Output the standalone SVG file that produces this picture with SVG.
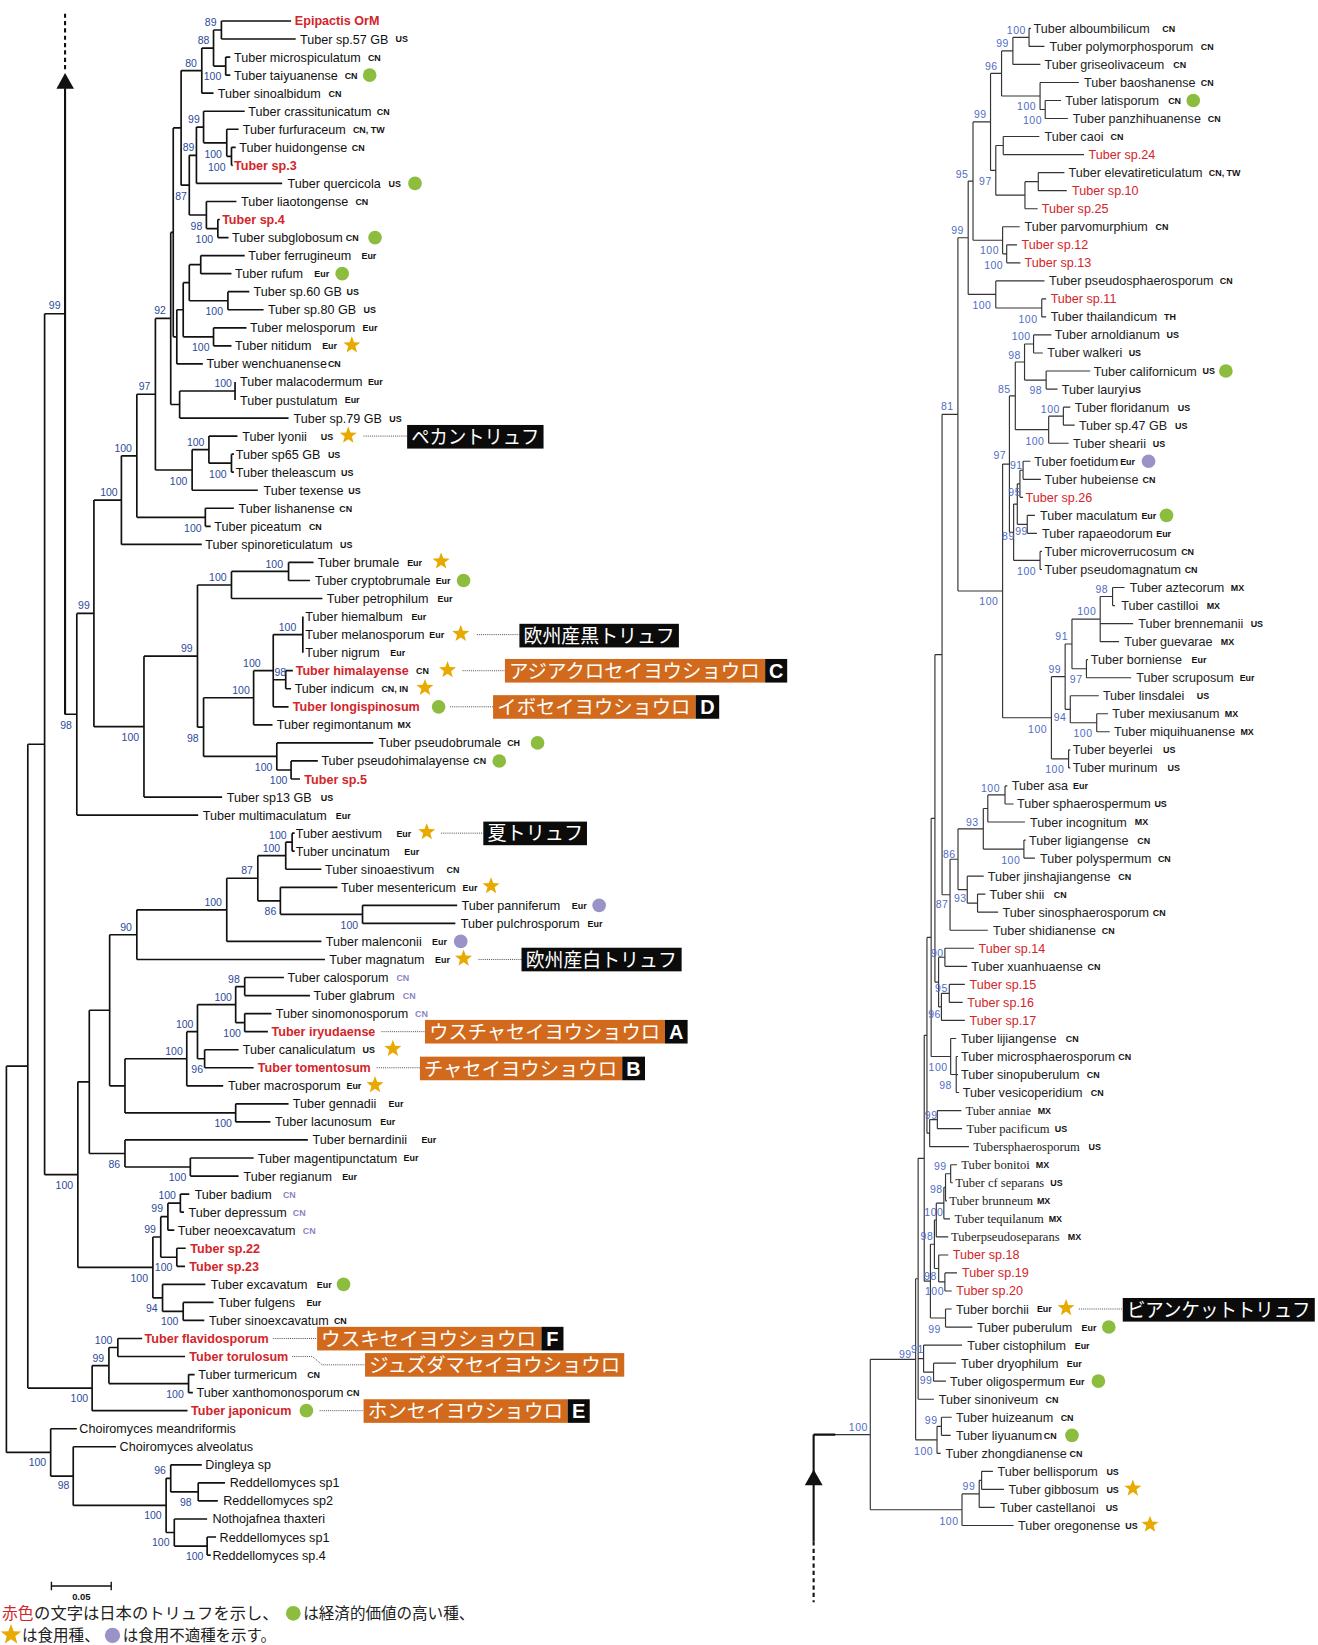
<svg xmlns="http://www.w3.org/2000/svg" xmlns:xlink="http://www.w3.org/1999/xlink" width="1318" height="1645" viewBox="0 0 1318 1645">
<style>
.n{font-family:"Liberation Sans",Arial,sans-serif;font-size:12px;fill:#111}
.rt{fill:#222}
.rd{fill:#d3252a;font-weight:bold}
.rr{fill:#d3252a}
.sf{font-family:"Liberation Serif","Times New Roman",serif}
.t{font-family:"Liberation Sans",Arial,sans-serif;font-size:8.5px;font-weight:bold;fill:#111}
.tp{fill:#8b84c2}
.bs{font-family:"Liberation Sans",Arial,sans-serif;font-size:10px;fill:#2c4a9c;text-anchor:middle}
.bs2{fill:#4f6cc4;letter-spacing:0.5px}
.tr{fill:none;stroke:#111;stroke-width:1.6}
.tr2{fill:none;stroke:#333;stroke-width:1.1}
.ar{fill:none;stroke:#111;stroke-width:2}
.dt{fill:none;stroke:#333;stroke-width:0.8;stroke-dasharray:1 1}
.ob{fill:#d16a1c}
.bk{fill:#0b0b0b}
.bt{font-family:"Noto Sans CJK JP","Noto Sans CJK SC",sans-serif;font-size:18.5px;fill:#fff}
.bl{font-family:"Liberation Sans",Arial,sans-serif;font-size:19px;font-weight:bold;fill:#fff;text-anchor:middle}
.gc{fill:#8cbd3f}
.pc{fill:#9a93c8}
.lg{font-family:"Noto Sans CJK JP","Noto Sans CJK SC",sans-serif;font-size:15px;fill:#222}
</style>
<defs>
<path id="st" fill="#e8a900" d="M0,-8.5 L2.1,-2.9 L8.1,-2.6 L3.4,1.1 L5,6.9 L0,3.5 L-5,6.9 L-3.4,1.1 L-8.1,-2.6 L-2.1,-2.9 Z"/>
</defs>
<rect width="1318" height="1645" fill="#fff"/>
<g transform="scale(1.0493)">
<g id="connectors">
<path class="tr" d="M211 20V37.2M211 20H277.4M211 37.2H281.8M215.1 54.4V71.6M215.1 54.4H219.5M215.1 71.6H219.5M203.5 28.6V63M203.5 28.6H211M203.5 63H215.1M192.3 45.8V88.8M192.3 45.8H203.5M192.3 88.8H203.5M220.6 140.4V157.6M220.6 140.4H224.6M220.6 157.6H221.8M216.1 123.2V149M216.1 123.2H227.4M216.1 149H220.6M194 106V136.1M194 106H233.2M194 136.1H216.1M187.2 121.1V174.8M187.2 121.1H194M187.2 174.8H268.9M207.6 209.2V226.4M207.6 209.2H209.5M207.6 226.4H217.8M196.7 192V217.8M196.7 192H225.3M196.7 217.8H207.6M180.4 148V204.9M180.4 148H187.2M180.4 204.9H196.7M172.6 67.3V176.5M172.6 67.3H192.3M172.6 176.5H180.4M191.3 243.6V260.8M191.3 243.6H233.2M191.3 260.8H220.6M217.2 278V295.2M217.2 278H237.6M217.2 295.2H251.2M180.4 252.2V286.6M180.4 252.2H191.3M180.4 286.6H217.2M203.5 312.4V329.6M203.5 312.4H234.9M203.5 329.6H220.6M174.6 269.4V321M174.6 269.4H180.4M174.6 321H203.5M168.5 295.2V346.8M168.5 295.2H174.6M168.5 346.8H193.3M165.1 121.9V321M165.1 121.9H172.6M165.1 321H168.5M224 364V381.2M171.2 372.6V398.4M171.2 372.6H224M171.2 398.4H275M162.7 221.5V385.5M162.7 221.5H165.1M162.7 385.5H171.2M220.6 432.8V450M220.6 432.8H222.9M220.6 450H222.9M199.1 415.6V441.4M199.1 415.6H226.3M199.1 441.4H220.6M183.1 428.5V467.2M183.1 428.5H199.1M183.1 467.2H245.7M148.1 303.5V447.9M148.1 303.5H162.7M148.1 447.9H183.1M195.7 484.4V501.6M195.7 484.4H222.9M195.7 501.6H200.8M130.4 375.7V493M130.4 375.7H148.1M130.4 493H195.7M115.7 434.4V518.8M115.7 434.4H130.4M115.7 518.8H192.3M275 536V553.2M275 536H298.8M275 553.2H295.4M220.6 544.6V570.4M220.6 544.6H275M220.6 570.4H307.3M288.6 587.6V622M272.3 639.2V656.4M272.3 639.2H279.1M272.3 656.4H277.4M260.4 604.8V673.6M260.4 604.8H288.6M260.4 647.8H272.3M260.4 673.6H275M241.7 639.2V690.8M241.7 639.2H260.4M241.7 690.8H259.7M277.4 725.2V742.4M277.4 725.2H302.9M277.4 742.4H285.9M263.8 708V733.8M263.8 708H355.7M263.8 733.8H277.4M194 665V720.9M194 665H241.7M194 720.9H263.8M188.2 557.5V693M188.2 557.5H220.6M188.2 693H194M137.2 625.3V759.6M137.2 625.3H188.2M137.2 759.6H211.7M89.5 476.6V692.5M89.5 476.6H115.7M89.5 692.5H137.2M73.2 584.6V776.8M73.2 584.6H89.5M73.2 776.8H188.9M62 680.7H73.2M278.4 794V811.2M278.4 794H280.8M278.4 811.2H280.8M272.3 802.6V828.4M272.3 802.6H278.4M272.3 828.4H306.3M345.5 862.8V880M345.5 862.8H435.7M345.5 880H434M267.2 845.6V871.4M267.2 845.6H321.6M267.2 871.4H345.5M245.7 815.5V858.5M245.7 815.5H272.3M245.7 858.5H267.2M216.1 837V897.2M216.1 837H245.7M216.1 897.2H306.3M130.4 867.1V914.4M130.4 867.1H216.1M130.4 914.4H309.7M233.2 931.6V948.8M233.2 931.6H270.6M233.2 948.8H295.4M233.2 966V983.2M233.2 966H258.7M233.2 983.2H255.3M224.6 940.2V974.6M224.6 940.2H233.2M224.6 974.6H233.2M195 1000.4V1017.6M195 1000.4H227.4M195 1017.6H241.7M188.2 957.4V1009M188.2 957.4H224.6M188.2 1009H195M178 983.2V1034.8M178 983.2H188.2M178 1034.8H212.7M224.6 1052V1069.2M224.6 1052H275M224.6 1069.2H257.7M119.1 1009V1060.6M119.1 1009H178M119.1 1060.6H224.6M104.5 890.8V1034.8M104.5 890.8H130.4M104.5 1034.8H119.1M181.4 1103.6V1120.8M181.4 1103.6H241.7M181.4 1120.8H227.4M119.1 1086.4V1112.2M119.1 1086.4H293.4M119.1 1112.2H181.4M85.1 962.8V1099.3M85.1 962.8H104.5M85.1 1099.3H119.1M171.9 1138V1155.2M171.9 1138H180.4M171.9 1155.2H175.3M160 1146.6V1172.4M160 1146.6H171.9M160 1172.4H166.1M168.5 1189.6V1206.8M168.5 1189.6H177M168.5 1206.8H176.3M153.2 1159.5V1198.2M153.2 1159.5H160M153.2 1198.2H168.5M174.6 1241.2V1258.4M174.6 1241.2H203.5M174.6 1258.4H194.7M154.9 1224V1249.8M154.9 1224H195.7M154.9 1249.8H174.6M145.7 1178.9V1236.9M145.7 1178.9H153.2M145.7 1236.9H154.9M74.2 1031V1207.9M74.2 1031H85.1M74.2 1207.9H145.7M42.5 299V1119.5M42.5 299H62M42.5 1119.5H74.2M112.3 1275.6V1292.8M112.3 1275.6H135.5M112.3 1292.8H176.3M179.7 1310V1327.2M179.7 1310H185.5M179.7 1327.2H183.8M103.8 1284.2V1318.6M103.8 1284.2H112.3M103.8 1318.6H179.7M87.8 1301.4V1344.4M87.8 1301.4H103.8M87.8 1344.4H178.7M26.5 709.3V1322.9M26.5 709.3H42.5M26.5 1322.9H87.8M188.9 1413.2V1430.4M188.9 1413.2H214.4M188.9 1430.4H207.6M162.7 1396V1421.8M162.7 1396H192.3M162.7 1421.8H188.9M197.4 1464.8V1482M197.4 1464.8H205.9M197.4 1482H200.8M166.1 1447.6V1473.4M166.1 1447.6H197.4M166.1 1473.4H197.4M158.3 1408.9V1460.5M158.3 1408.9H162.7M158.3 1460.5H166.1M69.8 1378.8V1434.7M69.8 1378.8H110.6M69.8 1434.7H158.3M48.3 1361.6V1406.8M48.3 1361.6H73.2M48.3 1406.8H69.8M6.1 1016.1V1384.2M6.1 1016.1H26.5M6.1 1384.2H48.3"/>
<path class="ar" d="M62 84V681"/>
<path class="ar" d="M62 13V69" stroke-dasharray="4 3"/>
<polygon points="62,69.5 53.8,84.5 70.5,84.5" fill="#111"/>
<path class="tr2" d="M980.7 27V44.2M980.7 27H982.5M980.7 44.2H995.4M965.3 35.6V61.4M965.3 35.6H980.7M965.3 61.4H991.5M996.1 95.8V112.9M996.1 95.8H1011.2M996.1 112.9H1017.7M991.2 78.6V104.4M991.2 78.6H1028.2M991.2 104.4H996.1M954.5 48.5V91.5M954.5 48.5H965.3M954.5 91.5H991.2M956.1 130.1V147.3M956.1 130.1H990.5M956.1 147.3H1033.1M989.5 164.5V181.7M989.5 164.5H1014.4M989.5 181.7H1016.7M976.8 173.1V198.9M976.8 173.1H989.5M976.8 198.9H988.9M949 138.7V186M949 138.7H956.1M949 186H976.8M944 70V162.4M944 70H954.5M944 162.4H949M959.4 233.3V250.5M959.4 233.3H969.2M959.4 250.5H972.5M955.5 216.1V241.9M955.5 216.1H971.8M955.5 241.9H959.4M927.3 116.2V229M927.3 116.2H944M927.3 229H955.5M992.8 284.9V302M992.8 284.9H997M992.8 302H997M949 267.7V293.5M949 267.7H995.4M949 293.5H992.8M922.7 172.6V280.6M922.7 172.6H927.3M922.7 280.6H949M985 319.2V336.4M985 319.2H1002M985 336.4H993.8M997 353.6V370.8M997 353.6H1039M997 370.8H1007.9M976.4 327.8V362.2M976.4 327.8H985M976.4 362.2H997M1013.4 388V405.2M1013.4 388H1020M1013.4 405.2H1024.2M999.4 396.6V422.4M999.4 396.6H1013.4M999.4 422.4H1018.4M967.6 345V409.5M967.6 345H976.4M967.6 409.5H999.4M975 439.6V456.8M975 439.6H982M975 456.8H992M972 448.2V474M972 448.2H975M972 474H975M979 491.1V508.3M979 491.1H986.3M979 508.3H988.2M969.5 461.1V499.7M969.5 461.1H972M969.5 499.7H979M991.2 525.5V542.7M991.2 525.5H993M991.2 542.7H993M966 480.4V534.1M966 480.4H969.5M966 534.1H991.2M962 377.3V507.3M962 377.3H967.6M962 507.3H966M1060.3 559.9V577.1M1060.3 559.9H1071.7M1060.3 577.1H1062.6M1048.5 568.5V611.5M1048.5 568.5H1060.3M1048.5 594.3H1079.9M1048.5 611.5H1066.5M1035.4 628.7V645.9M1035.4 628.7H1037M1035.4 645.9H1078M1021.6 590V637.3M1021.6 590H1048.5M1021.6 637.3H1035.4M1045.2 680.2V697.4M1045.2 680.2H1056M1045.2 697.4H1057.6M1020 663.1V688.8M1020 663.1H1047.2M1020 688.8H1045.2M1015.1 613.7V676M1015.1 613.7H1021.6M1015.1 676H1020M1018.4 714.6V731.8M1018.4 714.6H1020M1018.4 731.8H1020M1002 644.9V723.2M1002 644.9H1015.1M1002 723.2H1018.4M955.5 442.3V684M955.5 442.3H962M955.5 684H1002M912.9 226.6V563.2M912.9 226.6H922.7M912.9 563.2H955.5M957.8 749V766.2M957.8 749H960M957.8 766.2H966M941.4 757.6V783.4M941.4 757.6H957.8M941.4 783.4H976.8M975.8 800.6V817.8M975.8 800.6H977.5M975.8 817.8H986.3M937.1 770.5V809.2M937.1 770.5H941.4M937.1 809.2H975.8M931.6 852.1V869.3M931.6 852.1H939.1M931.6 869.3H951.2M921.8 835V860.7M921.8 835H937.5M921.8 860.7H931.6M913 789.9V847.9M913 789.9H937.1M913 847.9H921.8M905.4 818.9V886.5M905.4 818.9H913M905.4 886.5H941.4M897.8 394.9V852.7M897.8 394.9H912.9M897.8 852.7H905.4M900.5 903.7V920.9M900.5 903.7H928.3M900.5 920.9H921.8M904.7 938.1V955.3M904.7 938.1H919.5M904.7 955.3H917.5M897.2 946.7V972.5M897.2 946.7H904.7M897.2 972.5H919.5M894.5 912.3V959.6M894.5 912.3H900.5M894.5 959.6H897.2M891 623.8V936M891 623.8H897.8M891 936H894.5M911.3 1006.9V1041.2M911.3 1006.9H913M911.3 1024.1H913M911.3 1041.2H914M906 989.7V1024M906 989.7H911.3M906 1024H911.3M887.4 779.9V1006.9M887.4 779.9H891M887.4 1006.9H906M893.3 1058.4V1075.6M893.3 1058.4H916.2M893.3 1075.6H916.9M886 1067V1092.8M886 1067H893.3M886 1092.8H923.4M883.4 893.4V1079.9M883.4 893.4H887.4M883.4 1079.9H886M906 1110V1127.2M906 1110H912M906 1127.2H908M901.1 1118.6V1144.4M901.1 1118.6H906M901.1 1144.4H902.5M899.5 1131.5V1161.6M899.5 1131.5H901.1M899.5 1161.6H905.4M892.3 1146.6V1178.8M892.3 1146.6H899.5M892.3 1178.8H903.7M900.5 1213.1V1230.3M900.5 1213.1H912M900.5 1230.3H907M894.6 1196V1221.7M894.6 1196H903.7M894.6 1221.7H900.5M890.5 1162.7V1208.9M890.5 1162.7H892.3M890.5 1208.9H894.6M901.1 1247.5V1264.7M901.1 1247.5H907M901.1 1264.7H926.7M886.7 1185.8V1256.1M886.7 1185.8H890.5M886.7 1256.1H901.1M880.8 986.7V1221M880.8 986.7H883.4M880.8 1221H886.7M889.7 1299.1V1316.3M889.7 1299.1H911M889.7 1316.3H901.5M880.2 1281.9V1307.7M880.2 1281.9H916.8M880.2 1307.7H889.7M875 1103.9V1333.5M875 1103.9H880.8M875 1294.8H880.2M875 1333.5H890M897.2 1350.7V1367.9M897.2 1350.7H907M897.2 1367.9H906M893 1359.3V1385.1M893 1359.3H897.2M893 1385.1H896.5M872.6 1218.7V1372.2M872.6 1218.7H875M872.6 1372.2H893M935.5 1402.2V1419.4M935.5 1402.2H946.3M935.5 1419.4H956.8M933.2 1410.8V1436.6M933.2 1410.8H935.5M933.2 1436.6H948M916.8 1423.7V1453.8M916.8 1423.7H933.2M916.8 1453.8H966M829.4 1295.5V1438.8M829.4 1295.5H872.6M829.4 1438.8H916.8M795 1367.2H829.4"/>
<path class="ar" d="M775.4 1367.2H796M775.4 1367.2V1469"/>
<path class="ar" d="M775.4 1469V1527" stroke-dasharray="4 3"/>
<polygon points="775.4,1400.5 767,1415.5 784,1415.5" fill="#111"/>
<path class="dt" d="M346.5 415.6H388M454.4 604.8H495M440.8 639.2H481.2M428.9 673.6H469.9M420.4 794H460.6M456 914.4H497M363.5 983.2H405M359 1017.6H400.2M260.4 1275.6H302.2M278.4 1292.8H297.8L307 1300.7H347.9M304.6 1344.4H346.5M1028.2 1247.5H1070"/>
</g>
<g id="bootstrap-left" class="bs">
<text x="200.8" y="25.1">89</text><text x="194" y="42.3">88</text><text x="182.1" y="63.9">80</text><text x="202.5" y="76.6">100</text><text x="184.8" y="117.2">99</text><text x="203.2" y="150.3">100</text><text x="206.6" y="163">100</text><text x="179.7" y="144.2">89</text><text x="172.6" y="190.3">87</text><text x="187.2" y="218.9">98</text><text x="194.7" y="231.6">100</text><text x="52.1" y="294.5">99</text><text x="152.5" y="299.5">92</text><text x="204.2" y="300.5">100</text><text x="191.3" y="334.5">100</text>
<text x="212.7" y="368.8">100</text><text x="137.8" y="372">97</text><text x="186.5" y="425.3">100</text><text x="117.4" y="430.8">100</text><text x="207.6" y="455.2">100</text><text x="170.2" y="461.9">100</text><text x="103.8" y="473">100</text><text x="183.8" y="507">100</text><text x="261.4" y="541.3">100</text><text x="207.6" y="554">100</text><text x="80" y="580.7">99</text><text x="274" y="601.3">100</text><text x="178" y="621.3">99</text><text x="240" y="635.6">100</text><text x="267.2" y="644.5">98</text><text x="229.7" y="661.7">100</text><text x="63" y="694.4">98</text><text x="124.2" y="706.2">100</text><text x="183.8" y="707.1">98</text>
<text x="251.2" y="734.7">100</text><text x="265.5" y="747.5">100</text><text x="264.8" y="799.2">100</text><text x="258.7" y="811.9">100</text><text x="235.5" y="833.2">87</text><text x="203.2" y="863.7">100</text><text x="257.7" y="872.3">86</text><text x="120.2" y="887.2">90</text><text x="332.9" y="885">100</text><text x="222.9" y="936.8">98</text><text x="212.7" y="953.9">100</text><text x="176" y="979.3">100</text><text x="221.2" y="988.2">100</text><text x="165.8" y="1005.7">100</text><text x="187.9" y="1022.5">96</text>
<text x="212.7" y="1073.9">100</text><text x="108.9" y="1112.7">86</text><text x="61.3" y="1132.7">100</text><text x="169.2" y="1125.7">100</text><text x="159.3" y="1142.8">100</text><text x="149.8" y="1155.5">99</text><text x="143" y="1174.6">99</text><text x="155.9" y="1211.5">100</text><text x="132.7" y="1221.6">100</text><text x="144.7" y="1250.2">94</text><text x="161.7" y="1262.9">100</text><text x="98.7" y="1280.4">100</text><text x="93.6" y="1297.9">99</text><text x="166.8" y="1331.9">100</text><text x="75.6" y="1336.6">100</text><text x="35.7" y="1397.3">100</text><text x="152.5" y="1404.9">96</text><text x="60.6" y="1419.5">98</text>
<text x="177" y="1435.4">98</text><text x="145.7" y="1447.2">100</text><text x="153.2" y="1473.5">100</text><text x="185.5" y="1486.9">100</text>
</g>
<g id="bootstrap-right" class="bs bs2">
<text x="968.6" y="32.1">100</text><text x="955.5" y="44.8">99</text><text x="944.7" y="66.4">96</text><text x="978.4" y="105.2">100</text><text x="984" y="118.5">100</text><text x="934.2" y="112.5">99</text><text x="916.8" y="169.3">95</text><text x="939.1" y="176">97</text><text x="912.6" y="222.7">99</text><text x="943" y="242.4">100</text><text x="947" y="256">100</text><text x="935.8" y="294.8">100</text><text x="979.7" y="307.5">100</text><text x="973.2" y="324.3">100</text><text x="966.9" y="341.8">98</text><text x="957.1" y="374.2">85</text><text x="987.2" y="375.8">98</text><text x="902.8" y="391">81</text><text x="1001" y="393.6">100</text>
<text x="986.3" y="423.7">100</text><text x="952.9" y="437.1">97</text><text x="968.6" y="446.6">91</text><text x="967" y="472.7">95</text><text x="961.1" y="514.9">89</text><text x="973.5" y="510.1">99</text><text x="978.4" y="548.3">100</text><text x="942.4" y="576.2">100</text><text x="1050.1" y="565.1">98</text><text x="1035.7" y="586.4">100</text><text x="1011.8" y="610.2">91</text><text x="1005.2" y="641">99</text><text x="1025.6" y="650.9">97</text><text x="1010.2" y="687.1">94</text><text x="988.9" y="698.2">100</text><text x="1032.1" y="702.3">100</text><text x="1005.2" y="736.6">100</text><text x="944" y="754.7">100</text><text x="926.7" y="787.2">93</text>
<text x="904.7" y="817.3">86</text><text x="963.3" y="823">100</text><text x="897.8" y="865">87</text><text x="915.2" y="859.5">93</text><text x="893.3" y="912">90</text><text x="897.2" y="945.3">95</text><text x="890.6" y="969.8">96</text><text x="894" y="1020.6">100</text><text x="901.1" y="1038.1">98</text><text x="887.4" y="1066">99</text><text x="896.2" y="1115.3">99</text><text x="892.3" y="1136.9">98</text><text x="890" y="1158.8">100</text><text x="883.4" y="1181.3">98</text>
<text x="886.7" y="1220.1">98</text><text x="890.6" y="1234.4">100</text><text x="890.6" y="1269.9">99</text><text x="862.8" y="1293.8">99</text><text x="874.3" y="1289.3">91</text><text x="882.5" y="1319.2">99</text><text x="887.4" y="1357.3">99</text><text x="880.2" y="1386.2">100</text><text x="818" y="1363.7">100</text><text x="923.4" y="1420.2">99</text><text x="904.4" y="1453.6">100</text>
</g>
<g id="left-taxa">
<g id="L01"><text class="n rd" x="281" y="24.3">Epipactis OrM</text></g>
<g id="L02"><text class="n" y="41.5"><tspan x="286">Tuber sp.57 GB</tspan><tspan class="t" x="377" dy="-1">US</tspan></text></g>
<g id="L03"><text class="n" y="58.7"><tspan x="223">Tuber microspiculatum</tspan><tspan class="t" x="350.6" dy="-1">CN</tspan></text></g>
<g id="L04"><text class="n" y="75.9"><tspan x="223">Tuber taiyuanense</tspan><tspan class="t" x="328.5" dy="-1">CN</tspan></text><circle class="gc" cx="352.3" cy="71.6" r="6.5"/></g>
<g id="L05"><text class="n" y="93.1"><tspan x="207.6">Tuber sinoalbidum</tspan><tspan class="t" x="313.1" dy="-1">CN</tspan></text></g>
<g id="L06"><text class="n" y="110.3"><tspan x="236.6">Tuber crassitunicatum</tspan><tspan class="t" x="359.1" dy="-1">CN</tspan></text></g>
<g id="L07"><text class="n" y="127.5"><tspan x="231.4">Tuber furfuraceum</tspan><tspan class="t" x="336.3" dy="-1">CN, TW</tspan></text></g>
<g id="L08"><text class="n" y="144.7"><tspan x="228">Tuber huidongense</tspan><tspan class="t" x="335.3" dy="-1">CN</tspan></text></g>
<g id="L09"><text class="n rd" x="223" y="161.9">Tuber sp.3</text></g>
<g id="L10"><text class="n" y="179.1"><tspan x="274">Tuber quercicola</tspan><tspan class="t" x="370.3" dy="-1">US</tspan></text><circle class="gc" cx="395.5" cy="174.8" r="6.5"/></g>
<g id="L11"><text class="n" y="196.3"><tspan x="229.7">Tuber liaotongense</tspan><tspan class="t" x="338.7" dy="-1">CN</tspan></text></g>
<g id="L12"><text class="n rd" x="211.7" y="213.5">Tuber sp.4</text></g>
<g id="L13"><text class="n" y="230.7"><tspan x="221.2">Tuber subglobosum</tspan><tspan class="t" x="329.5" dy="-1">CN</tspan></text><circle class="gc" cx="357.4" cy="226.4" r="6.5"/></g>
<g id="L14"><text class="n" y="247.9"><tspan x="236.6">Tuber ferrugineum</tspan><tspan class="t" x="344.5" dy="-1">Eur</tspan></text></g>
<g id="L15"><text class="n" y="265.1"><tspan x="224">Tuber rufum</tspan><tspan class="t" x="299.5" dy="-1">Eur</tspan></text><circle class="gc" cx="326.1" cy="260.8" r="6.5"/></g>
<g id="L16"><text class="n" y="282.3"><tspan x="241.7">Tuber sp.60 GB</tspan><tspan class="t" x="330.2" dy="-1">US</tspan></text></g>
<g id="L17"><text class="n" y="299.5"><tspan x="255.3">Tuber sp.80 GB</tspan><tspan class="t" x="346.5" dy="-1">US</tspan></text></g>
<g id="L18"><text class="n" y="316.7"><tspan x="238.3">Tuber melosporum</tspan><tspan class="t" x="345.5" dy="-1">Eur</tspan></text></g>
<g id="L19"><text class="n" y="333.9"><tspan x="224">Tuber nitidum</tspan><tspan class="t" x="307" dy="-1">Eur</tspan></text><use href="#st" x="335.3" y="329"/></g>
<g id="L20"><text class="n" y="351.1"><tspan x="196.7">Tuber wenchuanense</tspan><tspan class="t" x="312.5" dy="-1">CN</tspan></text></g>
<g id="L21"><text class="n" y="368.3"><tspan x="228.7">Tuber malacodermum</tspan><tspan class="t" x="350.6" dy="-1">Eur</tspan></text></g>
<g id="L22"><text class="n" y="385.5"><tspan x="228.7">Tuber pustulatum</tspan><tspan class="t" x="328.5" dy="-1">Eur</tspan></text></g>
<g id="L23"><text class="n" y="402.7"><tspan x="279.8">Tuber sp.79 GB</tspan><tspan class="t" x="371" dy="-1">US</tspan></text></g>
<g id="L24"><text class="n" y="419.9"><tspan x="230.8">Tuber lyonii</tspan><tspan class="t" x="305.7" dy="-1">US</tspan></text><use href="#st" x="331.9" y="415"/></g>
<g id="L25"><text class="n" y="437.1"><tspan x="224.6">Tuber sp65 GB</tspan><tspan class="t" x="312.5" dy="-1">US</tspan></text></g>
<g id="L26"><text class="n" y="454.3"><tspan x="224.6">Tuber theleascum</tspan><tspan class="t" x="325" dy="-1">US</tspan></text></g>
<g id="L27"><text class="n" y="471.5"><tspan x="251.2">Tuber texense</tspan><tspan class="t" x="331.9" dy="-1">US</tspan></text></g>
<g id="L28"><text class="n" y="488.7"><tspan x="227.4">Tuber lishanense</tspan><tspan class="t" x="323.4" dy="-1">CN</tspan></text></g>
<g id="L29"><text class="n" y="505.9"><tspan x="204.2">Tuber piceatum</tspan><tspan class="t" x="294.4" dy="-1">CN</tspan></text></g>
<g id="L30"><text class="n" y="523.1"><tspan x="195.7">Tuber spinoreticulatum</tspan><tspan class="t" x="324" dy="-1">US</tspan></text></g>
<g id="L31"><text class="n" y="540.3"><tspan x="302.9">Tuber brumale</tspan><tspan class="t" x="388" dy="-1">Eur</tspan></text><use href="#st" x="420.4" y="535"/></g>
<g id="L32"><text class="n" y="557.5"><tspan x="300.2">Tuber cryptobrumale</tspan><tspan class="t" x="415.2" dy="-1">Eur</tspan></text><circle class="gc" cx="441.8" cy="553.2" r="6.5"/></g>
<g id="L33"><text class="n" y="574.7"><tspan x="311.4">Tuber petrophilum</tspan><tspan class="t" x="417" dy="-1">Eur</tspan></text></g>
<g id="L34"><text class="n" y="591.9"><tspan x="291">Tuber hiemalbum</tspan><tspan class="t" x="392.1" dy="-1">Eur</tspan></text></g>
<g id="L35"><text class="n" y="609.1"><tspan x="291">Tuber melanosporum</tspan><tspan class="t" x="409.1" dy="-1">Eur</tspan></text><use href="#st" x="439.1" y="604"/></g>
<g id="L36"><text class="n" y="626.3"><tspan x="291">Tuber nigrum</tspan><tspan class="t" x="372" dy="-1">Eur</tspan></text></g>
<g id="L37"><text class="n rd" y="643.5"><tspan x="281.8">Tuber himalayense</tspan><tspan class="t" x="396.5" dy="-1">CN</tspan></text><use href="#st" x="426.5" y="638.5"/></g>
<g id="L38"><text class="n" y="660.7"><tspan x="280.8">Tuber indicum</tspan><tspan class="t" x="363.5" dy="-1">CN, IN</tspan></text><use href="#st" x="405" y="655.5"/></g>
<g id="L39"><text class="n rd" x="279.1" y="677.9">Tuber longispinosum</text><circle class="gc" cx="418" cy="673.6" r="6.5"/></g>
<g id="L40"><text class="n" y="695.1"><tspan x="263.8">Tuber regimontanum</tspan><tspan class="t" x="378.8" dy="-1">MX</tspan></text></g>
<g id="L41"><text class="n" y="712.3"><tspan x="360.8">Tuber pseudobrumale</tspan><tspan class="t" x="483.3" dy="-1">CH</tspan></text><circle class="gc" cx="512.3" cy="708" r="6.5"/></g>
<g id="L42"><text class="n" y="729.5"><tspan x="306.3">Tuber pseudohimalayense</tspan><tspan class="t" x="451" dy="-1">CN</tspan></text><circle class="gc" cx="475.8" cy="725.2" r="6.5"/></g>
<g id="L43"><text class="n rd" x="290" y="746.7">Tuber sp.5</text></g>
<g id="L44"><text class="n" y="763.9"><tspan x="216.1">Tuber sp13 GB</tspan><tspan class="t" x="305.7" dy="-1">US</tspan></text></g>
<g id="L45"><text class="n" y="781.1"><tspan x="193.3">Tuber multimaculatum</tspan><tspan class="t" x="320" dy="-1">Eur</tspan></text></g>
<g id="L46"><text class="n" y="798.3"><tspan x="281.8">Tuber aestivum</tspan><tspan class="t" x="377.8" dy="-1">Eur</tspan></text><use href="#st" x="406.7" y="793"/></g>
<g id="L47"><text class="n" y="815.5"><tspan x="281.8">Tuber uncinatum</tspan><tspan class="t" x="385.3" dy="-1">Eur</tspan></text></g>
<g id="L48"><text class="n" y="832.7"><tspan x="309.7">Tuber sinoaestivum</tspan><tspan class="t" x="425.5" dy="-1">CN</tspan></text></g>
<g id="L49"><text class="n" y="849.9"><tspan x="325">Tuber mesentericum</tspan><tspan class="t" x="440.8" dy="-1">Eur</tspan></text><use href="#st" x="468" y="844.5"/></g>
<g id="L50"><text class="n" y="867.1"><tspan x="439.8">Tuber panniferum</tspan><tspan class="t" x="545" dy="-1">Eur</tspan></text><circle class="pc" cx="571" cy="862.8" r="6.5"/></g>
<g id="L51"><text class="n" y="884.3"><tspan x="439.1">Tuber pulchrosporum</tspan><tspan class="t" x="560" dy="-1">Eur</tspan></text></g>
<g id="L52"><text class="n" y="901.5"><tspan x="310.4">Tuber malenconii</tspan><tspan class="t" x="411.8" dy="-1">Eur</tspan></text><circle class="pc" cx="439.1" cy="897.2" r="6.5"/></g>
<g id="L53"><text class="n" y="918.7"><tspan x="313.8">Tuber magnatum</tspan><tspan class="t" x="414.6" dy="-1">Eur</tspan></text><use href="#st" x="441.8" y="913.5"/></g>
<g id="L54"><text class="n" y="935.9"><tspan x="274">Tuber calosporum</tspan><tspan class="t tp" x="377.8" dy="-1">CN</tspan></text></g>
<g id="L55"><text class="n" y="953.1"><tspan x="298.8">Tuber glabrum</tspan><tspan class="t tp" x="383.9" dy="-1">CN</tspan></text></g>
<g id="L56"><text class="n" y="970.3"><tspan x="262.8">Tuber sinomonosporum</tspan><tspan class="t tp" x="395.5" dy="-1">CN</tspan></text></g>
<g id="L57"><text class="n rd" x="258.7" y="987.5">Tuber iryudaense</text></g>
<g id="L58"><text class="n" y="1004.7"><tspan x="231.4">Tuber canaliculatum</tspan><tspan class="t" x="345.5" dy="-1">US</tspan></text><use href="#st" x="374.4" y="999.5"/></g>
<g id="L59"><text class="n rd" x="245.7" y="1021.9">Tuber tomentosum</text></g>
<g id="L60"><text class="n" y="1039.1"><tspan x="217.2">Tuber macrosporum</tspan><tspan class="t" x="330.2" dy="-1">Eur</tspan></text><use href="#st" x="357.4" y="1034"/></g>
<g id="L61"><text class="n" y="1056.3"><tspan x="279.1">Tuber gennadii</tspan><tspan class="t" x="370.3" dy="-1">Eur</tspan></text></g>
<g id="L62"><text class="n" y="1073.5"><tspan x="262.1">Tuber lacunosum</tspan><tspan class="t" x="362.5" dy="-1">Eur</tspan></text></g>
<g id="L63"><text class="n" y="1090.7"><tspan x="297.8">Tuber bernardinii</tspan><tspan class="t" x="401.6" dy="-1">Eur</tspan></text></g>
<g id="L64"><text class="n" y="1107.9"><tspan x="245.7">Tuber magentipunctatum</tspan><tspan class="t" x="384.6" dy="-1">Eur</tspan></text></g>
<g id="L65"><text class="n" y="1125.1"><tspan x="232.1">Tuber regianum</tspan><tspan class="t" x="326.1" dy="-1">Eur</tspan></text></g>
<g id="L66"><text class="n" y="1142.3"><tspan x="185.5">Tuber badium</tspan><tspan class="t tp" x="269.6" dy="-1">CN</tspan></text></g>
<g id="L67"><text class="n" y="1159.5"><tspan x="179.7">Tuber depressum</tspan><tspan class="t tp" x="279.1" dy="-1">CN</tspan></text></g>
<g id="L68"><text class="n" y="1176.7"><tspan x="169.5">Tuber neoexcavatum</tspan><tspan class="t tp" x="288.6" dy="-1">CN</tspan></text></g>
<g id="L69"><text class="n rd" x="181.4" y="1193.9">Tuber sp.22</text></g>
<g id="L70"><text class="n rd" x="180.4" y="1211.1">Tuber sp.23</text></g>
<g id="L71"><text class="n" y="1228.3"><tspan x="200.8">Tuber excavatum</tspan><tspan class="t" x="301.9" dy="-1">Eur</tspan></text><circle class="gc" cx="327.4" cy="1224" r="6.5"/></g>
<g id="L72"><text class="n" y="1245.5"><tspan x="208.3">Tuber fulgens</tspan><tspan class="t" x="292" dy="-1">Eur</tspan></text></g>
<g id="L73"><text class="n" y="1262.7"><tspan x="199.1">Tuber sinoexcavatum</tspan><tspan class="t" x="318.2" dy="-1">CN</tspan></text></g>
<g id="L74"><text class="n rd" x="137.8" y="1279.9">Tuber flavidosporum</text></g>
<g id="L75"><text class="n rd" x="180.4" y="1297.1">Tuber torulosum</text></g>
<g id="L76"><text class="n" y="1314.3"><tspan x="188.9">Tuber turmericum</tspan><tspan class="t" x="292.7" dy="-1">CN</tspan></text></g>
<g id="L77"><text class="n" y="1331.5"><tspan x="187.2">Tuber xanthomonosporum</tspan><tspan class="t" x="330.2" dy="-1">CN</tspan></text></g>
<g id="L78"><text class="n rd" x="182.1" y="1348.7">Tuber japonicum</text><circle class="gc" cx="292" cy="1344.4" r="6.5"/></g>
<g id="L79"><text class="n" x="75.6" y="1365.9">Choiromyces meandriformis</text></g>
<g id="L80"><text class="n" x="114" y="1383.1">Choiromyces alveolatus</text></g>
<g id="L81"><text class="n" x="195.7" y="1400.3">Dingleya sp</text></g>
<g id="L82"><text class="n" x="218.9" y="1417.5">Reddellomyces sp1</text></g>
<g id="L83"><text class="n" x="212.7" y="1434.7">Reddellomyces sp2</text></g>
<g id="L84"><text class="n" x="202.5" y="1451.9">Nothojafnea thaxteri</text></g>
<g id="L85"><text class="n" x="209.3" y="1469.1">Reddellomyces sp1</text></g>
<g id="L86"><text class="n" x="202.5" y="1486.3">Reddellomyces sp.4</text></g>
</g>
<g id="right-taxa">
<g id="R01"><text class="n rt" y="31.3"><tspan x="984.9">Tuber alboumbilicum</tspan><tspan class="t" x="1107.7" dy="-1">CN</tspan></text></g>
<g id="R02"><text class="n rt" y="48.5"><tspan x="1000.3">Tuber polymorphosporum</tspan><tspan class="t" x="1144.4" dy="-1">CN</tspan></text></g>
<g id="R03"><text class="n rt" y="65.7"><tspan x="995.4">Tuber griseolivaceum</tspan><tspan class="t" x="1118.2" dy="-1">CN</tspan></text></g>
<g id="R04"><text class="n rt" y="82.9"><tspan x="1033.1">Tuber baoshanense</tspan><tspan class="t" x="1144.4" dy="-1">CN</tspan></text></g>
<g id="R05"><text class="n rt" y="100.1"><tspan x="1015.1">Tuber latisporum</tspan><tspan class="t" x="1113.3" dy="-1">CN</tspan></text><circle class="gc" cx="1137.2" cy="95.8" r="6.5"/></g>
<g id="R06"><text class="n rt" y="117.2"><tspan x="1022.3">Tuber panzhihuanense</tspan><tspan class="t" x="1151" dy="-1">CN</tspan></text></g>
<g id="R07"><text class="n rt" y="134.4"><tspan x="995.4">Tuber caoi</tspan><tspan class="t" x="1058.3" dy="-1">CN</tspan></text></g>
<g id="R08"><text class="n rr" x="1037.4" y="151.6">Tuber sp.24</text></g>
<g id="R09"><text class="n rt" y="168.8"><tspan x="1018.4">Tuber elevatireticulatum</tspan><tspan class="t" x="1152" dy="-1">CN, TW</tspan></text></g>
<g id="R10"><text class="n rr" x="1021.6" y="186">Tuber sp.10</text></g>
<g id="R11"><text class="n rr" x="992.8" y="203.2">Tuber sp.25</text></g>
<g id="R12"><text class="n rt" y="220.4"><tspan x="976.4">Tuber parvomurphium</tspan><tspan class="t" x="1101.2" dy="-1">CN</tspan></text></g>
<g id="R13"><text class="n rr" x="973.5" y="237.6">Tuber sp.12</text></g>
<g id="R14"><text class="n rr" x="976.4" y="254.8">Tuber sp.13</text></g>
<g id="R15"><text class="n rt" y="272"><tspan x="999.7">Tuber pseudosphaerosporum</tspan><tspan class="t" x="1162.4" dy="-1">CN</tspan></text></g>
<g id="R16"><text class="n rr" x="1001.3" y="289.2">Tuber sp.11</text></g>
<g id="R17"><text class="n rt" y="306.3"><tspan x="1001.3">Tuber thailandicum</tspan><tspan class="t" x="1109.4" dy="-1">TH</tspan></text></g>
<g id="R18"><text class="n rt" y="323.5"><tspan x="1005.3">Tuber arnoldianum</tspan><tspan class="t" x="1111.7" dy="-1">US</tspan></text></g>
<g id="R19"><text class="n rt" y="340.7"><tspan x="998">Tuber walkeri</tspan><tspan class="t" x="1075.6" dy="-1">US</tspan></text></g>
<g id="R20"><text class="n rt" y="357.9"><tspan x="1042.3">Tuber californicum</tspan><tspan class="t" x="1146" dy="-1">US</tspan></text><circle class="gc" cx="1168.3" cy="353.6" r="6.5"/></g>
<g id="R21"><text class="n rt" y="375.1"><tspan x="1011.8">Tuber lauryi</tspan><tspan class="t" x="1075.6" dy="-1">US</tspan></text></g>
<g id="R22"><text class="n rt" y="392.3"><tspan x="1024.2">Tuber floridanum</tspan><tspan class="t" x="1122.5" dy="-1">US</tspan></text></g>
<g id="R23"><text class="n rt" y="409.5"><tspan x="1028.2">Tuber sp.47 GB</tspan><tspan class="t" x="1119.8" dy="-1">US</tspan></text></g>
<g id="R24"><text class="n rt" y="426.7"><tspan x="1022.6">Tuber shearii</tspan><tspan class="t" x="1098.6" dy="-1">US</tspan></text></g>
<g id="R25"><text class="n rt" y="443.9"><tspan x="985.6">Tuber foetidum</tspan><tspan class="t" x="1067.5" dy="-1">Eur</tspan></text><circle class="pc" cx="1094.6" cy="439.6" r="6.5"/></g>
<g id="R26"><text class="n rt" y="461.1"><tspan x="995.4">Tuber hubeiense</tspan><tspan class="t" x="1088.8" dy="-1">CN</tspan></text></g>
<g id="R27"><text class="n rr" x="977.4" y="478.3">Tuber sp.26</text></g>
<g id="R28"><text class="n rt" y="495.4"><tspan x="991.2">Tuber maculatum</tspan><tspan class="t" x="1087.8" dy="-1">Eur</tspan></text><circle class="gc" cx="1111.7" cy="491.1" r="6.5"/></g>
<g id="R29"><text class="n rt" y="512.6"><tspan x="993.1">Tuber rapaeodorum</tspan><tspan class="t" x="1101.9" dy="-1">Eur</tspan></text></g>
<g id="R30"><text class="n rt" y="529.8"><tspan x="995.4">Tuber microverrucosum</tspan><tspan class="t" x="1125.7" dy="-1">CN</tspan></text></g>
<g id="R31"><text class="n rt" y="547"><tspan x="995.4">Tuber pseudomagnatum</tspan><tspan class="t" x="1129" dy="-1">CN</tspan></text></g>
<g id="R32"><text class="n rt" y="564.2"><tspan x="1076.6">Tuber aztecorum</tspan><tspan class="t" x="1172.9" dy="-1">MX</tspan></text></g>
<g id="R33"><text class="n rt" y="581.4"><tspan x="1068.5">Tuber castilloi</tspan><tspan class="t" x="1150" dy="-1">MX</tspan></text></g>
<g id="R34"><text class="n rt" y="598.6"><tspan x="1084.8">Tuber brennemanii</tspan><tspan class="t" x="1191.9" dy="-1">US</tspan></text></g>
<g id="R35"><text class="n rt" y="615.8"><tspan x="1071.4">Tuber guevarae</tspan><tspan class="t" x="1163.4" dy="-1">MX</tspan></text></g>
<g id="R36"><text class="n rt" y="633"><tspan x="1039.6">Tuber borniense</tspan><tspan class="t" x="1135.6" dy="-1">Eur</tspan></text></g>
<g id="R37"><text class="n rt" y="650.2"><tspan x="1082.9">Tuber scruposum</tspan><tspan class="t" x="1181.4" dy="-1">Eur</tspan></text></g>
<g id="R38"><text class="n rt" y="667.4"><tspan x="1051.1">Tuber linsdalei</tspan><tspan class="t" x="1140.5" dy="-1">US</tspan></text></g>
<g id="R39"><text class="n rt" y="684.5"><tspan x="1060">Tuber mexiusanum</tspan><tspan class="t" x="1167.3" dy="-1">MX</tspan></text></g>
<g id="R40"><text class="n rt" y="701.7"><tspan x="1061.6">Tuber miquihuanense</tspan><tspan class="t" x="1182.1" dy="-1">MX</tspan></text></g>
<g id="R41"><text class="n rt" y="718.9"><tspan x="1022.3">Tuber beyerlei</tspan><tspan class="t" x="1108.4" dy="-1">US</tspan></text></g>
<g id="R42"><text class="n rt" y="736.1"><tspan x="1022.3">Tuber murinum</tspan><tspan class="t" x="1112.7" dy="-1">US</tspan></text></g>
<g id="R43"><text class="n rt" y="753.3"><tspan x="964.3">Tuber asa</tspan><tspan class="t" x="1022.6" dy="-1">Eur</tspan></text></g>
<g id="R44"><text class="n rt" y="770.5"><tspan x="969.2">Tuber sphaerospermum</tspan><tspan class="t" x="1100.2" dy="-1">US</tspan></text></g>
<g id="R45"><text class="n rt" y="787.7"><tspan x="981.7">Tuber incognitum</tspan><tspan class="t" x="1081.5" dy="-1">MX</tspan></text></g>
<g id="R46"><text class="n rt" y="804.9"><tspan x="980.7">Tuber ligiangense</tspan><tspan class="t" x="1083.8" dy="-1">CN</tspan></text></g>
<g id="R47"><text class="n rt" y="822.1"><tspan x="991.2">Tuber polyspermum</tspan><tspan class="t" x="1103.5" dy="-1">CN</tspan></text></g>
<g id="R48"><text class="n rt" y="839.3"><tspan x="941.4">Tuber jinshajiangense</tspan><tspan class="t" x="1065.8" dy="-1">CN</tspan></text></g>
<g id="R49"><text class="n rt" y="856.4"><tspan x="943">Tuber shii</tspan><tspan class="t" x="1004.3" dy="-1">CN</tspan></text></g>
<g id="R50"><text class="n rt" y="873.6"><tspan x="955.5">Tuber sinosphaerosporum</tspan><tspan class="t" x="1098.6" dy="-1">CN</tspan></text></g>
<g id="R51"><text class="n rt" y="890.8"><tspan x="946.3">Tuber shidianense</tspan><tspan class="t" x="1050.1" dy="-1">CN</tspan></text></g>
<g id="R52"><text class="n rr" x="932.6" y="908">Tuber sp.14</text></g>
<g id="R53"><text class="n rt" y="925.2"><tspan x="925.7">Tuber xuanhuaense</tspan><tspan class="t" x="1036.4" dy="-1">CN</tspan></text></g>
<g id="R54"><text class="n rr" x="924" y="942.4">Tuber sp.15</text></g>
<g id="R55"><text class="n rr" x="921.8" y="959.6">Tuber sp.16</text></g>
<g id="R56"><text class="n rr" x="924" y="976.8">Tuber sp.17</text></g>
<g id="R57"><text class="n rt" y="994"><tspan x="915.9">Tuber lijiangense</tspan><tspan class="t" x="1015.7" dy="-1">CN</tspan></text></g>
<g id="R58"><text class="n rt" y="1011.2"><tspan x="915.9">Tuber microsphaerosporum</tspan><tspan class="t" x="1065.8" dy="-1">CN</tspan></text></g>
<g id="R59"><text class="n rt" y="1028.4"><tspan x="915.9">Tuber sinopuberulum</tspan><tspan class="t" x="1035.7" dy="-1">CN</tspan></text></g>
<g id="R60"><text class="n rt" y="1045.5"><tspan x="917.5">Tuber vesicoperidium</tspan><tspan class="t" x="1039.6" dy="-1">CN</tspan></text></g>
<g id="R61"><text class="n rt sf" y="1062.7"><tspan x="920.1">Tuber anniae</tspan><tspan class="t" x="988.9" dy="-1">MX</tspan></text></g>
<g id="R62"><text class="n rt sf" y="1079.9"><tspan x="921.1">Tuber pacificum</tspan><tspan class="t" x="1005.2" dy="-1">US</tspan></text></g>
<g id="R63"><text class="n rt sf" y="1097.1"><tspan x="927.6">Tubersphaerosporum</tspan><tspan class="t" x="1037.4" dy="-1">US</tspan></text></g>
<g id="R64"><text class="n rt sf" y="1114.3"><tspan x="916.2">Tuber bonitoi</tspan><tspan class="t" x="987.2" dy="-1">MX</tspan></text></g>
<g id="R65"><text class="n rt sf" y="1131.5"><tspan x="910.3">Tuber cf separans</tspan><tspan class="t" x="1001" dy="-1">US</tspan></text></g>
<g id="R66"><text class="n rt sf" y="1148.7"><tspan x="904.7">Tuber brunneum</tspan><tspan class="t" x="988.2" dy="-1">MX</tspan></text></g>
<g id="R67"><text class="n rt sf" y="1165.9"><tspan x="909.6">Tuber tequilanum</tspan><tspan class="t" x="999.4" dy="-1">MX</tspan></text></g>
<g id="R68"><text class="n rt sf" y="1183.1"><tspan x="906.4">Tuberpseudoseparans</tspan><tspan class="t" x="1017.7" dy="-1">MX</tspan></text></g>
<g id="R69"><text class="n rr" x="908" y="1200.3">Tuber sp.18</text></g>
<g id="R70"><text class="n rr" x="916.8" y="1217.4">Tuber sp.19</text></g>
<g id="R71"><text class="n rr" x="911.3" y="1234.6">Tuber sp.20</text></g>
<g id="R72"><text class="n rt" y="1251.8"><tspan x="911">Tuber borchii</tspan><tspan class="t" x="988.2" dy="-1">Eur</tspan></text><use href="#st" x="1016" y="1246.5"/></g>
<g id="R73"><text class="n rt" y="1269"><tspan x="931">Tuber puberulum</tspan><tspan class="t" x="1030.8" dy="-1">Eur</tspan></text><circle class="gc" cx="1056.7" cy="1264.7" r="6.5"/></g>
<g id="R74"><text class="n rt" y="1286.2"><tspan x="921.8">Tuber cistophilum</tspan><tspan class="t" x="1024.2" dy="-1">Eur</tspan></text></g>
<g id="R75"><text class="n rt" y="1303.4"><tspan x="915.9">Tuber dryophilum</tspan><tspan class="t" x="1016.7" dy="-1">Eur</tspan></text></g>
<g id="R76"><text class="n rt" y="1320.6"><tspan x="905.4">Tuber oligospermum</tspan><tspan class="t" x="1019.3" dy="-1">Eur</tspan></text><circle class="gc" cx="1046.8" cy="1316.3" r="6.5"/></g>
<g id="R77"><text class="n rt" y="1337.8"><tspan x="894.6">Tuber sinoniveum</tspan><tspan class="t" x="996.4" dy="-1">CN</tspan></text></g>
<g id="R78"><text class="n rt" y="1355"><tspan x="911">Tuber huizeanum</tspan><tspan class="t" x="1010.8" dy="-1">CN</tspan></text></g>
<g id="R79"><text class="n rt" y="1372.2"><tspan x="911">Tuber liyuanum</tspan><tspan class="t" x="994.8" dy="-1">CN</tspan></text><circle class="gc" cx="1021.6" cy="1367.9" r="6.5"/></g>
<g id="R80"><text class="n rt" y="1389.4"><tspan x="901.1">Tuber zhongdianense</tspan><tspan class="t" x="1019.3" dy="-1">CN</tspan></text></g>
<g id="R81"><text class="n rt" y="1406.5"><tspan x="950.6">Tuber bellisporum</tspan><tspan class="t" x="1054.4" dy="-1">US</tspan></text></g>
<g id="R82"><text class="n rt" y="1423.7"><tspan x="961">Tuber gibbosum</tspan><tspan class="t" x="1054.4" dy="-1">US</tspan></text><use href="#st" x="1079.6" y="1418.5"/></g>
<g id="R83"><text class="n rt" y="1440.9"><tspan x="952.9">Tuber castellanoi</tspan><tspan class="t" x="1053.7" dy="-1">US</tspan></text></g>
<g id="R84"><text class="n rt" y="1458.1"><tspan x="970.2">Tuber oregonense</tspan><tspan class="t" x="1072.4" dy="-1">US</tspan></text><use href="#st" x="1096" y="1453"/></g>
</g>
<g id="annotations">
<g id="box-pecan"><rect class="bk" x="388" y="405" width="130" height="22.5"/><text class="bt" x="392" y="423" textLength="122" lengthAdjust="spacingAndGlyphs">ペカントリュフ</text></g>
<g id="box-black"><rect class="bk" x="495" y="594.5" width="152" height="22.5"/><text class="bt" x="499" y="612.5" textLength="144" lengthAdjust="spacingAndGlyphs">欧州産黒トリュフ</text></g>
<g id="box-C"><rect class="ob" x="481.2" y="628" width="248" height="22.5"/><text class="bt" x="485" y="646" textLength="239" lengthAdjust="spacingAndGlyphs">アジアクロセイヨウショウロ</text><rect class="bk" x="729.2" y="628" width="21" height="22.5"/><text class="bl" x="739.7" y="646.3">C</text></g>
<g id="box-D"><rect class="ob" x="469.9" y="662.5" width="193.1" height="22.5"/><text class="bt" x="474" y="680.5" textLength="184" lengthAdjust="spacingAndGlyphs">イボセイヨウショウロ</text><rect class="bk" x="663" y="662.5" width="22.4" height="22.5"/><text class="bl" x="674.2" y="680.8">D</text></g>
<g id="box-summer"><rect class="bk" x="460.6" y="783" width="98.8" height="22.5"/><text class="bt" x="464.6" y="801" textLength="91" lengthAdjust="spacingAndGlyphs">夏トリュフ</text></g>
<g id="box-white"><rect class="bk" x="497" y="903.2" width="152.6" height="22.5"/><text class="bt" x="501" y="921.2" textLength="144" lengthAdjust="spacingAndGlyphs">欧州産白トリュフ</text></g>
<g id="box-A"><rect class="ob" x="405" y="972" width="228.7" height="22.5"/><text class="bt" x="409" y="990" textLength="220" lengthAdjust="spacingAndGlyphs">ウスチャセイヨウショウロ</text><rect class="bk" x="633.7" y="972" width="21.6" height="22.5"/><text class="bl" x="644.5" y="990.3">A</text></g>
<g id="box-B"><rect class="ob" x="400.2" y="1007" width="192.8" height="22.5"/><text class="bt" x="404" y="1025" textLength="184" lengthAdjust="spacingAndGlyphs">チャセイヨウショウロ</text><rect class="bk" x="593" y="1007" width="21.7" height="22.5"/><text class="bl" x="603.8" y="1025.3">B</text></g>
<g id="box-F"><rect class="ob" x="302.2" y="1264.5" width="213.8" height="22.5"/><text class="bt" x="306" y="1282.5" textLength="205" lengthAdjust="spacingAndGlyphs">ウスキセイヨウショウロ</text><rect class="bk" x="516" y="1264.5" width="21" height="22.5"/><text class="bl" x="526.5" y="1282.8">F</text></g>
<g id="box-juzudama"><rect class="ob" x="347.9" y="1289.5" width="247" height="22.5"/><text class="bt" x="352" y="1307.5" textLength="239" lengthAdjust="spacingAndGlyphs">ジュズダマセイヨウショウロ</text></g>
<g id="box-E"><rect class="ob" x="346.5" y="1333.5" width="194.5" height="22.5"/><text class="bt" x="350.5" y="1351.5" textLength="186" lengthAdjust="spacingAndGlyphs">ホンセイヨウショウロ</text><rect class="bk" x="541" y="1333.5" width="21" height="22.5"/><text class="bl" x="551.5" y="1351.8">E</text></g>
<g id="box-bianchetto"><rect class="bk" x="1070" y="1237" width="183" height="22.5"/><text class="bt" x="1074" y="1255" textLength="175" lengthAdjust="spacingAndGlyphs">ビアンケットトリュフ</text></g>
</g>
<g id="scale-bar">
<path d="M49 1511.5H106M49 1507.5V1515.5M106 1507.5V1515.5" fill="none" stroke="#111" stroke-width="1.3"/>
<text x="77.5" y="1525" font-family="Liberation Sans, Arial, sans-serif" font-size="9" font-weight="bold" text-anchor="middle" fill="#111">0.05</text>
</g>
<g id="legend">
<text class="lg" x="2" y="1543" textLength="30" lengthAdjust="spacingAndGlyphs" fill="#d3252a" style="fill:#d3252a">赤色</text>
<text class="lg" x="32.5" y="1543" textLength="233" lengthAdjust="spacingAndGlyphs">の文字は日本のトリュフを示し、</text>
<circle class="gc" cx="279.5" cy="1537.5" r="7"/>
<text class="lg" x="289" y="1543" textLength="163" lengthAdjust="spacingAndGlyphs">は経済的価値の高い種、</text>
<use href="#st" transform="translate(10.5,1558) scale(1.2)"/>
<text class="lg" x="21" y="1564" textLength="74" lengthAdjust="spacingAndGlyphs">は食用種、</text>
<circle class="pc" cx="107.2" cy="1558.5" r="7.3"/>
<text class="lg" x="117" y="1564" textLength="146" lengthAdjust="spacingAndGlyphs">は食用不適種を示す。</text>
</g>
</g>
</svg>
